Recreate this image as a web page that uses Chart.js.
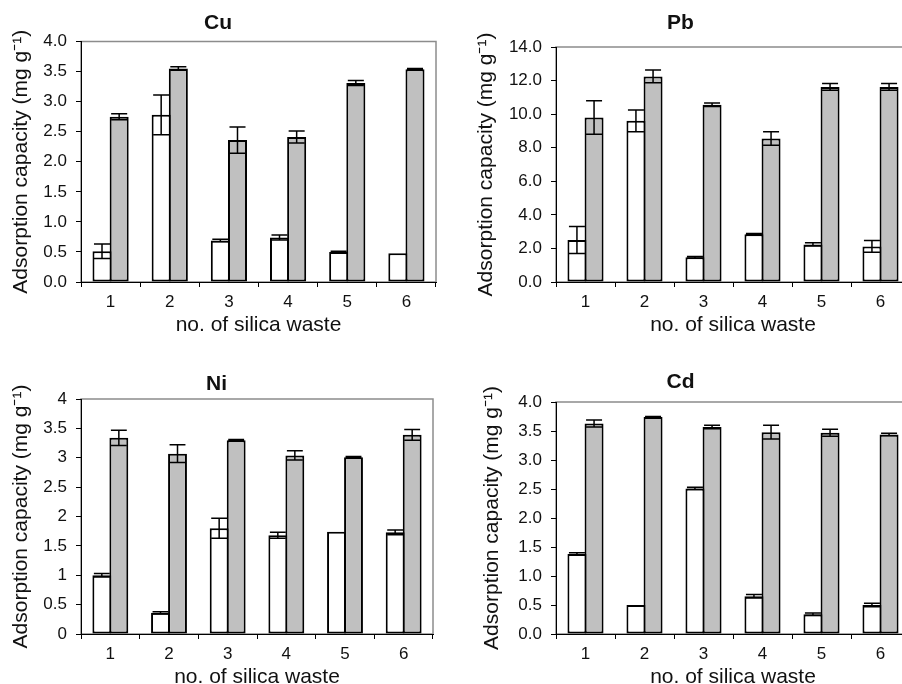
<!DOCTYPE html>
<html>
<head>
<meta charset="utf-8">
<script src="https://cdn.jsdelivr.net/npm/chart.js@4.4.0/dist/chart.umd.min.js"></script>
<style>
  html, body { margin: 0; padding: 0; background: #fff; overflow: hidden; }
  #wrap { position: relative; width: 902px; height: 684px; overflow: hidden; }
  canvas { position: absolute; }
</style>
</head>
<body>
<div id="wrap">
  <canvas id="cuChart" width="451" height="342" style="left:0;top:0"></canvas>
  <canvas id="pbChart" width="470" height="342" style="left:451px;top:0"></canvas>
  <canvas id="niChart" width="451" height="350" style="left:0;top:342px"></canvas>
  <canvas id="cdChart" width="470" height="350" style="left:451px;top:342px"></canvas>
</div>
<script>
// silica waste samples
var labels = ['1', '2', '3', '4', '5', '6'];

// white bars / grey bars with +- error, mg g-1
var cuWhite = [0.51, 2.78, 0.69, 0.74, 0.50, 0.48];
var cuWhiteErr = [0.12, 0.33, 0.02, 0.04, 0.01, 0];
var cuGray = [2.75, 3.55, 2.36, 2.41, 3.31, 3.54];
var cuGrayErr = [0.05, 0.03, 0.22, 0.10, 0.04, 0.01];

var pbWhite = [2.5, 9.6, 1.47, 2.85, 2.24, 2.12];
var pbWhiteErr = [0.8, 0.65, 0.05, 0.04, 0.1, 0.35];
var pbGray = [9.8, 12.25, 10.56, 8.55, 11.62, 11.62];
var pbGrayErr = [1.0, 0.38, 0.1, 0.4, 0.2, 0.2];

var niWhite = [1.0, 0.36, 1.8, 1.68, 1.74, 1.73];
var niWhiteErr = [0.03, 0.02, 0.17, 0.05, 0, 0.04];
var niGray = [3.34, 3.07, 3.30, 3.04, 3.01, 3.39];
var niGrayErr = [0.13, 0.15, 0.01, 0.08, 0.01, 0.09];

var cdWhite = [1.38, 0.5, 2.51, 0.65, 0.34, 0.5];
var cdWhiteErr = [0.02, 0, 0.02, 0.03, 0.02, 0.03];
var cdGray = [3.63, 3.74, 3.57, 3.48, 3.47, 3.44];
var cdGrayErr = [0.06, 0.01, 0.03, 0.12, 0.06, 0.02];

var FONT = "'Liberation Sans', Arial, sans-serif";

// grey box round the plot area, axes are drawn over it later
var frame = {
    id: 'frame',
    beforeDraw: function (chart) {
        var a = chart.chartArea;
        var ctx = chart.ctx;
        ctx.save();
        ctx.strokeStyle = '#8c8c8c';
        ctx.lineWidth = 1.5;
        ctx.strokeRect(a.left, a.top, a.right - a.left, a.bottom - a.top);
        ctx.restore();
    }
};

var errorBars = {
    id: 'errorBars',
    afterDatasetsDraw: function (chart) {
        var ctx = chart.ctx;
        var yScale = chart.scales.y;
        ctx.save();
        ctx.strokeStyle = '#000';
        ctx.lineWidth = 1.5;
        chart.data.datasets.forEach(function (ds, i) {
            var meta = chart.getDatasetMeta(i);
            meta.data.forEach(function (bar, j) {
                var e = ds.errors[j];
                if (!e) return;
                var top = yScale.getPixelForValue(ds.data[j] + e);
                var bot = yScale.getPixelForValue(ds.data[j] - e);
                var half = bar.width / 2 - 1.5;
                ctx.beginPath();
                ctx.moveTo(bar.x, top);
                ctx.lineTo(bar.x, bot);
                ctx.moveTo(bar.x - half, top);
                ctx.lineTo(bar.x + half, top);
                ctx.moveTo(bar.x - half, bot);
                ctx.lineTo(bar.x + half, bot);
                ctx.stroke();
            });
        });
        ctx.restore();
    }
};

function makeChart(id, o) {
    return new Chart(document.getElementById(id), {
        type: 'bar',
        data: {
            labels: labels,
            datasets: [
                {
                    data: o.white, errors: o.whiteErr,
                    backgroundColor: '#ffffff', borderColor: '#000', borderWidth: 2,
                    borderSkipped: false, barPercentage: 1.11, categoryPercentage: 0.58
                },
                {
                    data: o.gray, errors: o.grayErr,
                    backgroundColor: '#c0c0c0', borderColor: '#000', borderWidth: 2,
                    borderSkipped: false, barPercentage: 1.11, categoryPercentage: 0.58
                }
            ]
        },
        options: {
            responsive: false,
            animation: false,
            devicePixelRatio: 1,
            layout: { padding: { left: 0, right: o.padRight, top: 0, bottom: 0 } },
            plugins: {
                legend: { display: false },
                tooltip: { enabled: false },
                title: {
                    display: true, text: o.title, color: '#111',
                    font: { family: FONT, size: 21, weight: 'bold' },
                    padding: { top: o.titleTop, bottom: o.titleBottom }
                }
            },
            scales: {
                x: {
                    grid: { drawOnChartArea: false, tickLength: 5, color: '#000', offset: true },
                    border: { color: '#000', width: 1 },
                    ticks: { color: '#111', font: { family: FONT, size: 17 }, padding: 5, maxRotation: 0 },
                    title: {
                        display: true, text: 'no. of silica waste', color: '#111',
                        font: { family: FONT, size: 21 },
                        padding: { top: 0, bottom: o.xTitleBottom }
                    },
                    afterFit: function (s) { s.height = o.xHeight; }
                },
                y: {
                    min: 0, max: o.max,
                    grid: { drawOnChartArea: false, tickLength: 5, color: '#000' },
                    border: { color: '#000', width: 1 },
                    ticks: {
                        stepSize: o.step, color: '#111', padding: 9,
                        font: { family: FONT, size: 17 },
                        callback: o.fmt
                    },
                    title: {
                        display: true, text: 'Adsorption capacity (mg g\u207B\u00B9)', color: '#111',
                        font: { family: FONT, size: 21 },
                        padding: { top: o.yTitleTop, bottom: 0 }
                    },
                    afterFit: function (s) { s.width = o.yWidth; }
                }
            }
        },
        plugins: [frame, errorBars]
    });
}

function oneDecimal(v) { return v.toFixed(1); }
function plain(v) { return String(+v.toFixed(2)); }

makeChart('cuChart', {
    title: 'Cu', white: cuWhite, whiteErr: cuWhiteErr, gray: cuGray, grayErr: cuGrayErr,
    max: 4, step: 0.5, fmt: oneDecimal,
    padRight: 15, titleTop: 10.4, titleBottom: 5.9, xHeight: 60, xTitleBottom: 4.4,
    yWidth: 81, yTitleTop: 9
});
makeChart('pbChart', {
    title: 'Pb', white: pbWhite, whiteErr: pbWhiteErr, gray: pbGray, grayErr: pbGrayErr,
    max: 14, step: 2, fmt: oneDecimal,
    padRight: 11, titleTop: 10.4, titleBottom: 11.4, xHeight: 60, xTitleBottom: 4.4,
    yWidth: 105, yTitleTop: 22.4
});
makeChart('niChart', {
    title: 'Ni', white: niWhite, whiteErr: niWhiteErr, gray: niGray, grayErr: niGrayErr,
    max: 4, step: 0.5, fmt: plain,
    padRight: 18, titleTop: 29.4, titleBottom: 2.4, xHeight: 58, xTitleBottom: 2.4,
    yWidth: 81, yTitleTop: 9
});
makeChart('cdChart', {
    title: 'Cd', white: cdWhite, whiteErr: cdWhiteErr, gray: cdGray, grayErr: cdGrayErr,
    max: 4, step: 0.5, fmt: oneDecimal,
    padRight: 11, titleTop: 27.4, titleBottom: 7.4, xHeight: 58, xTitleBottom: 2.4,
    yWidth: 105, yTitleTop: 29
});
</script>
</body>
</html>
